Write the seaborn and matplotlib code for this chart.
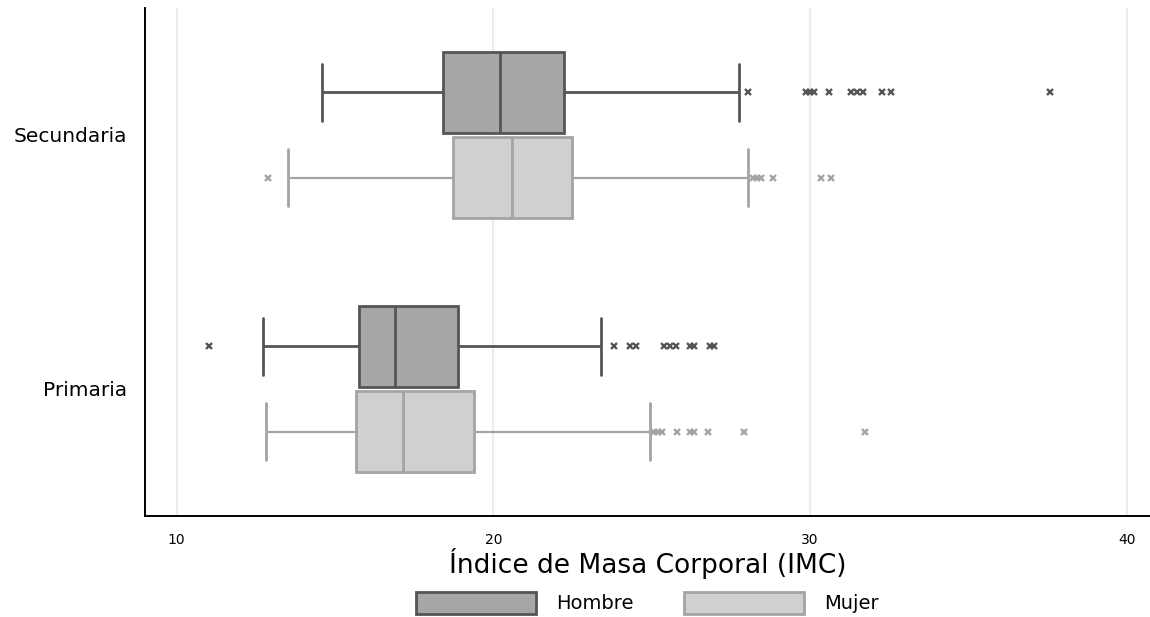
import numpy as np
import pandas as pd
import matplotlib
matplotlib.use("Agg")
import matplotlib.pyplot as plt
import matplotlib.patches as mpatches
import seaborn as sns

# ---- data (IMC box plot summary) ----
niveles = ["Secundaria", "Primaria"]
sexos = ["Hombre", "Mujer"]

# order of groups: (nivel, sexo)
grupos = [("Secundaria", "Hombre"), ("Secundaria", "Mujer"),
          ("Primaria", "Hombre"), ("Primaria", "Mujer")]
bigote_inf = [14.58, 13.51, 12.73, 12.82]
q1 = [18.40, 18.73, 15.76, 15.66]
mediana = [20.21, 20.60, 16.89, 17.13]
q3 = [22.22, 22.48, 18.87, 19.38]
bigote_sup = [27.74, 28.03, 23.41, 24.94]
atipicos_inf = [[], [12.88], [11.02], []]
atipicos_sup = [
    [28.05, 29.87, 30.0, 30.12, 30.58, 31.29, 31.48, 31.67, 32.26, 32.55, 37.57],
    [28.2, 28.33, 28.46, 28.82, 30.34, 30.65],
    [23.8, 24.32, 24.51, 25.39, 25.58, 25.77, 26.21, 26.34, 26.85, 26.98],
    [25.08, 25.2, 25.33, 25.8, 26.21, 26.34, 26.79, 27.92, 31.74],
]

tick_vals = [10, 20, 30, 40]


def muestra(lo_out, wlo, a, med, b, whi, hi_out):
    """Sample whose quartiles / whiskers / outliers equal the read values."""
    m = max(len(lo_out), len(hi_out)) + 2
    below = list(lo_out) + [wlo] + [a] * (m - len(lo_out))
    mid1 = [med] * m
    mid2 = [b] * m
    above = [b] * (m - 1 - len(hi_out)) + [whi] + list(hi_out)
    return below + mid1 + mid2 + above


rows = []
for i, (niv, sx) in enumerate(grupos):
    vals = muestra(atipicos_inf[i], bigote_inf[i], q1[i], mediana[i], q3[i],
                   bigote_sup[i], atipicos_sup[i])
    for v in vals:
        rows.append({"nivel": niv, "sexo": sx, "imc": v})
df = pd.DataFrame(rows)

# ---- styling ----
fill = {"Hombre": "#a6a6a6", "Mujer": "#d0d0d0"}
edge = {"Hombre": "#555555", "Mujer": "#a4a4a4"}

sns.set_style("white")
plt.rcParams["font.family"] = ["DejaVu Sans"]
plt.rcParams["text.color"] = "black"
plt.rcParams["axes.labelcolor"] = "black"
plt.rcParams["xtick.color"] = "black"
plt.rcParams["ytick.color"] = "black"

fig = plt.figure(figsize=(11.5, 6.17), dpi=100)
ax = fig.add_axes([145 / 1150, 1 - 516 / 617, 1 - 145 / 1150, (516 - 8) / 617])

for ax_v in tick_vals:
    ax.axvline(ax_v, color="#e6eef1", lw=1.6, zorder=0)

WIDTH = 0.67
GAP = 0.04
for sx in sexos:
    sub = df[df["sexo"] == sx]
    sns.boxplot(
        data=sub, x="imc", y="nivel", hue="sexo",
        order=niveles, hue_order=sexos, palette=fill, dodge=True,
        orient="h", width=WIDTH, gap=GAP, linecolor=edge[sx],
        linewidth=2.0, legend=False, ax=ax,
        whiskerprops={"linewidth": 2.0 if sx == "Hombre" else 1.6},
        flierprops={"marker": "x", "markersize": 4.8,
                    "markeredgewidth": 1.7,
                    "markeredgecolor": edge[sx]},
    )

# widen caps to ~70% of box height
box_h = WIDTH / 2 * (1 - GAP)
for ln in ax.lines:
    xd = np.asarray(ln.get_xdata(), dtype=float)
    yd = np.asarray(ln.get_ydata(), dtype=float)
    if len(xd) == 2 and np.isclose(xd[0], xd[1]) and ln.get_linestyle() != "None":
        span = abs(yd[1] - yd[0])
        if 0.02 < span < box_h * 0.95:
            c = yd.mean()
            half = box_h * 0.7 / 2
            ln.set_ydata([c - half, c + half])

ax.set_xlim(9.0, 40.73)
ax.set_ylim(1.5, -0.5)
ax.set_xticks(tick_vals)
ax.set_xticklabels([str(t) for t in tick_vals], fontsize=10)
ax.tick_params(axis="x", direction="out", length=8, width=1.3, color="black", pad=4)
ax.tick_params(axis="y", length=0, labelsize=14.5, pad=13)
ax.set_ylabel("")
ax.set_xlabel("Índice de Masa Corporal (IMC)", fontsize=19, labelpad=1)

for s in ["top", "right"]:
    ax.spines[s].set_visible(False)
for s in ["left", "bottom"]:
    ax.spines[s].set_color("black")
    ax.spines[s].set_linewidth(1.4)

handles = [mpatches.Patch(facecolor=fill[s], edgecolor=edge[s], linewidth=2.0, label=s)
           for s in sexos]
fig.legend(handles=handles, loc="center", bbox_to_anchor=(647 / 1150, 1 - 603 / 617),
           ncol=2, frameon=False, fontsize=14, handlelength=6.2, handleheight=1.4,
           handletextpad=1.0, columnspacing=2.6)

fig.savefig("out.png", dpi=100)
